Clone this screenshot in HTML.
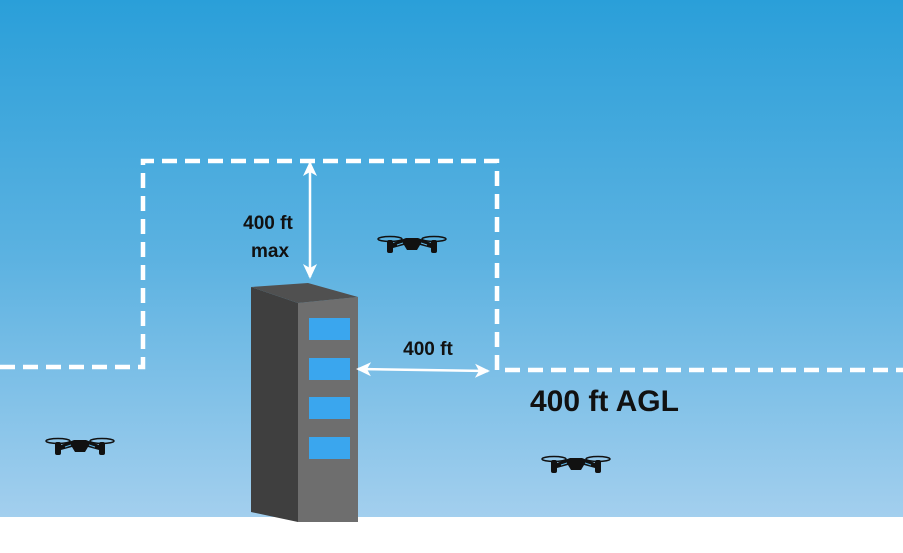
<!DOCTYPE html>
<html><head><meta charset="utf-8"><style>
html,body{margin:0;padding:0;width:903px;height:553px;overflow:hidden;background:#fff}
svg{display:block}
text{font-family:"Liberation Sans",Arial,sans-serif;font-weight:bold;fill:#111}
</style></head><body>
<svg width="903" height="553" viewBox="0 0 903 553">
<defs>
<linearGradient id="sky" x1="0" y1="0" x2="0" y2="1">
<stop offset="0" stop-color="#2a9fd9"/><stop offset="0.5" stop-color="#5cb2e1"/><stop offset="1" stop-color="#a3cfee"/>
</linearGradient>
<g id="drone">
<ellipse cx="-22" cy="-4" rx="12" ry="2.5" fill="none" stroke="#111" stroke-width="1.5"/>
<ellipse cx="22" cy="-4" rx="12" ry="2.5" fill="none" stroke="#111" stroke-width="1.5"/>
<rect x="-25" y="-3" width="6" height="13" rx="2" fill="#111"/>
<rect x="19" y="-3" width="6" height="13" rx="2" fill="#111"/>
<path d="M-19,0 L-6,-5 L6,-5 L19,0 L19,5 L8,2 L5,7 L-5,7 L-8,2 L-19,5 Z" fill="#111"/>
<path d="M-15,2 L-9,0 M9,0 L15,2" stroke="#5cb2e1" stroke-width="1"/>
</g>
<marker id="ah" markerWidth="16" markerHeight="16" refX="13" refY="8" orient="auto-start-reverse" markerUnits="userSpaceOnUse">
<path d="M0,1 L15,8 L0,15 L4,8 Z" fill="#fff"/>
</marker>
</defs>
<rect x="0" y="0" width="903" height="517" fill="url(#sky)"/>
<rect x="0" y="517" width="903" height="36" fill="#fff"/>
<path d="M0,367 L143,367 L143,161 L497,161 L497,370 L903,370" fill="none" stroke="#fff" stroke-width="4.5" stroke-dasharray="15,8"/>
<g>
<polygon points="251,287 298,303 298,522 251,512" fill="#3f3f3f"/>
<polygon points="298,303 358,297 358,522 298,522" fill="#6e6e6e"/>
<polygon points="251,287 308,283 358,297 298,303" fill="#505050"/>
<rect x="309" y="318" width="41" height="22" fill="#3aa6ee"/>
<rect x="309" y="358" width="41" height="22" fill="#3aa6ee"/>
<rect x="309" y="397" width="41" height="22" fill="#3aa6ee"/>
<rect x="309" y="437" width="41" height="22" fill="#3aa6ee"/>
</g>
<line x1="310" y1="163" x2="310" y2="277" stroke="#fff" stroke-width="2.5" marker-start="url(#ah)" marker-end="url(#ah)"/>
<line x1="358" y1="369" x2="488" y2="371" stroke="#fff" stroke-width="2.5" marker-start="url(#ah)" marker-end="url(#ah)"/>
<text x="268" y="229" font-size="19" text-anchor="middle">400 ft</text>
<text x="270" y="257" font-size="19" text-anchor="middle">max</text>
<text x="428" y="355" font-size="19" text-anchor="middle">400 ft</text>
<text x="530" y="411" font-size="30">400 ft AGL</text>
<use href="#drone" x="412" y="243"/>
<use href="#drone" x="80" y="445"/>
<use href="#drone" x="576" y="463"/>
</svg>
</body></html>
